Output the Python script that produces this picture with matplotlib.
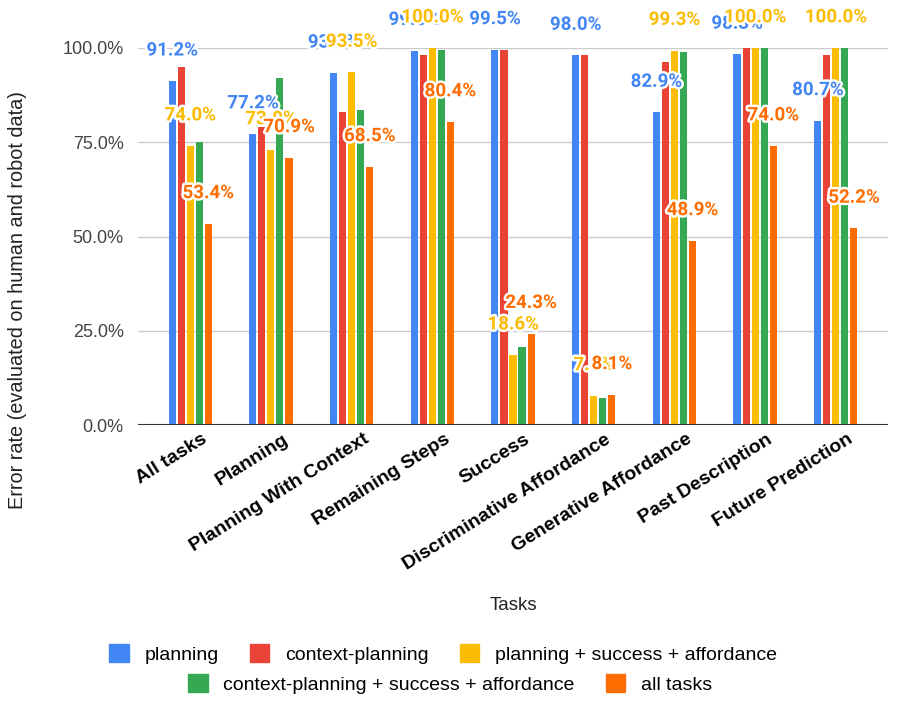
import matplotlib
matplotlib.use("Agg")
import matplotlib.pyplot as plt
import matplotlib.patheffects as pe
from matplotlib.ticker import FuncFormatter
from matplotlib.patches import Patch
import numpy as np

tasks = ["All tasks", "Planning", "Planning With Context", "Remaining Steps", "Success",
         "Discriminative Affordance", "Generative Affordance", "Past Description", "Future Prediction"]

series_names = ["planning", "context-planning", "planning + success + affordance",
                "context-planning + success + affordance", "all tasks"]
colors = ["#4285F4", "#EA4335", "#FBBC04", "#34A853", "#FF6D01"]

planning = [91.2, 77.2, 93.3, 99.3, 99.5, 98.0, 82.9, 98.3, 80.7]
context_planning = [95.0, 79.1, 83.1, 98.0, 99.5, 98.0, 96.2, 100.0, 98.0]
plan_succ_aff = [74.0, 73.0, 93.5, 100.0, 18.6, 7.8, 99.3, 100.0, 100.0]
ctx_succ_aff = [75.0, 92.0, 83.5, 99.5, 20.6, 7.3, 98.8, 100.0, 100.0]
all_tasks = [53.4, 70.9, 68.5, 80.4, 24.3, 8.1, 48.9, 74.0, 52.2]

series = [planning, context_planning, plan_succ_aff, ctx_succ_aff, all_tasks]
labelled = [True, False, True, False, True]

fig = plt.figure(figsize=(9, 7.04), dpi=100)
ax = fig.add_axes([0.153, 0.396, 0.834, 0.536])

x = np.arange(len(tasks))
pitch = 0.112
width = 0.088

for i, (vals, col) in enumerate(zip(series, colors)):
    ax.bar(x + (i - 2) * pitch, vals, width=width, color=col, zorder=3)

# data labels drawn after all bars
for i, (vals, col) in enumerate(zip(series, colors)):
    if not labelled[i]:
        continue
    for xi, v in zip(x + (i - 2) * pitch, vals):
        ax.annotate(f"{v:.1f}%", (xi, v), xytext=(0, 22), textcoords="offset points",
                    ha="center", va="center", fontsize=13.5, fontweight="bold",
                    family="Roboto", color=col, zorder=5, annotation_clip=False,
                    path_effects=[pe.withStroke(linewidth=3.5, foreground="white")])

ax.set_ylim(0, 100)
ax.set_xlim(-0.65, 8.65)
ax.set_yticks([0, 25, 50, 75, 100])
ax.yaxis.set_major_formatter(FuncFormatter(lambda v, p: f"{v:.1f}%"))
ax.grid(axis="y", color="#cccccc", linewidth=1, zorder=0)
ax.axhline(0, color="#333333", linewidth=1.5, zorder=4)
for s in ax.spines.values():
    s.set_visible(False)
ax.tick_params(length=0)
ax.tick_params(axis="y", labelsize=13, labelcolor="#444444", pad=10)
ax.tick_params(axis="x", pad=4)

ax.set_xticks(x + 0.14)
ax.set_xticklabels(tasks, rotation=32, ha="right", va="top", rotation_mode="anchor",
                   fontsize=14, fontweight="bold", family="Liberation Sans")
for lbl in ax.get_yticklabels():
    lbl.set_family("Liberation Sans")

fig.text(513 / 900, 1 - 606 / 704, "Tasks", ha="center", va="center",
         fontsize=13.5, family="Liberation Sans", color="#222222")
fig.text(18 / 900, 1 - 300 / 704, "Error rate (evaluated on human and robot data)",
         rotation=90, ha="center", va="center", fontsize=14.3,
         family="Liberation Sans", color="#222222")

handles = [Patch(facecolor=c, edgecolor=c) for c in colors]
leg_kw = dict(frameon=False, handlelength=1.0, handleheight=1.0,
              handletextpad=0.8, columnspacing=1.6, loc="center",
              prop={"family": "Liberation Sans", "size": 14})
fig.legend(handles[:3], series_names[:3], ncol=3,
           bbox_to_anchor=(443 / 900, 1 - 654 / 704), **leg_kw)
fig.legend(handles[3:], series_names[3:], ncol=2,
           bbox_to_anchor=(450 / 900, 1 - 684 / 704), **leg_kw)

fig.savefig("out.png", dpi=100)
